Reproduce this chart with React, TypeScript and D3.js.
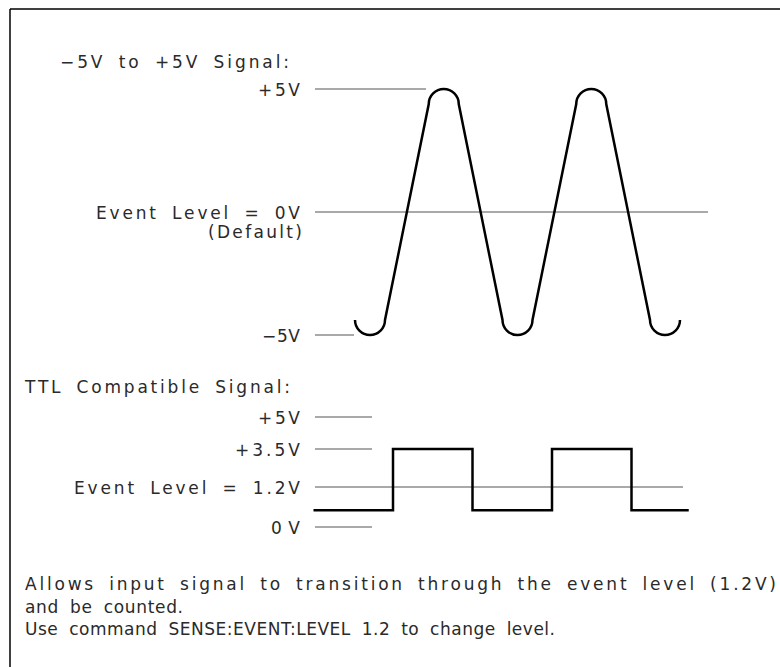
import React from 'react';
import * as d3 from 'd3';

// top signal: reference levels and the extremes of the wave
const sineLabels = ['+5V', 'Event Level = 0V', '−5V'];
const sineLabelValues = [5, 0, -5];
const sineTimes = [0, 1, 2, 3, 4];
const sineValues = [-5, 5, -5, 5, -5];

// TTL signal: reference levels and the step wave
const ttlLabels = ['+5V', '+3.5V', 'Event Level = 1.2V', '0V'];
const ttlLabelValues = [5, 3.5, 1.2, 0];
const ttlTimes = [0, 1, 2, 3, 4, 4.72];
const ttlValues = [0.5, 3.5, 0.5, 3.5, 0.5, 0.5];

const titles = ['−5V to +5V Signal:', 'TTL Compatible Signal:'];
const notes = [
  'Allows input signal to transition through the event level (1.2V)',
  'and be counted.',
  'Use command SENSE:EVENT:LEVEL 1.2 to change level.',
];

// layout only
const W = 780;
const H = 667;
const FONT = '"DejaVu Sans", Verdana, sans-serif';
const labelRight = 300;
const lineStart = 315;
const sineLabelWidths = [42, 204, 38];
const sineLineEnds = [426, 708, 354];
const ttlLabelWidths = [42, 65, 226, 29];
const ttlLineEnds = [372, 372, 683, 372];
const noteWidths = [751, 158, 530];
const arcR = 15;

export default function App() {
  const xSine = d3.scaleLinear().domain([0, 4]).range([370, 665]);
  const ySine = d3.scaleLinear().domain([-5, 5]).range([335, 89]);
  const xTtl = d3.scaleLinear().domain([1, 4]).range([393, 631.5]);
  const yTtl = d3.scaleLinear().domain([0, 1.2, 3.5, 5]).range([527, 487, 449, 417]);

  // rounded-tip wave: a half circle at each extreme, straight edges between
  const p = d3.path();
  sineTimes.forEach((t, i) => {
    const cx = xSine(t);
    const v = sineValues[i];
    if (v < 0) p.arc(cx, ySine(v) - arcR, arcR, Math.PI, 0, true);
    else p.arc(cx, ySine(v) + arcR, arcR, Math.PI, 2 * Math.PI, false);
  });
  const sinePath = p.toString();

  const ttlLine = d3.line<number>()
    .x((_, i) => xTtl(ttlTimes[i]))
    .y((d) => yTtl(d))
    .curve(d3.curveStepAfter);
  const ttlPath = ttlLine(ttlValues) || '';

  const textProps = {
    fontFamily: FONT,
    fontSize: 17,
    fill: '#2a2a2a',
    wordSpacing: 5,
    lengthAdjust: 'spacing' as const,
  };

  return (
    <svg width={W} height={H} style={{ position: 'absolute', left: 0, top: 0, background: '#fff' }}>
      <rect x={0} y={0} width={W} height={H} fill="#fff" />
      {/* frame */}
      <line x1={10} y1={9} x2={W} y2={9} stroke="#000" strokeWidth={1.5} />
      <line x1={10} y1={9} x2={10} y2={H} stroke="#000" strokeWidth={1.5} />

      {/* top signal */}
      <text x={60} y={68} textLength={229} {...textProps}>{titles[0]}</text>
      {sineLabels.map((lab, i) => {
        const y = ySine(sineLabelValues[i]);
        return (
          <g key={lab}>
            <line x1={lineStart} x2={sineLineEnds[i]} y1={y} y2={y} stroke="#555" strokeWidth={1.2} />
            <text x={labelRight} y={y + 6.5} textAnchor="end" textLength={sineLabelWidths[i]} {...textProps}>
              {lab}
            </text>
          </g>
        );
      })}
      <text x={302} y={238} textAnchor="end" textLength={94} {...textProps}>(Default)</text>
      <path d={sinePath} fill="none" stroke="#000" strokeWidth={2.5} />

      {/* TTL signal */}
      <text x={25} y={393} textLength={265} {...textProps}>{titles[1]}</text>
      {ttlLabels.map((lab, i) => {
        const y = yTtl(ttlLabelValues[i]);
        return (
          <g key={lab}>
            <line x1={lineStart} x2={ttlLineEnds[i]} y1={y} y2={y} stroke="#555" strokeWidth={1.2} />
            <text x={labelRight} y={y + 6.5} textAnchor="end" textLength={ttlLabelWidths[i]} {...textProps}>
              {lab}
            </text>
          </g>
        );
      })}
      <path d={ttlPath} fill="none" stroke="#000" strokeWidth={2.5} />

      {/* notes */}
      {notes.map((n, i) => (
        <text key={i} x={25} y={590 + i * 22.5} textLength={noteWidths[i]} {...textProps}>
          {n}
        </text>
      ))}
    </svg>
  );
}
